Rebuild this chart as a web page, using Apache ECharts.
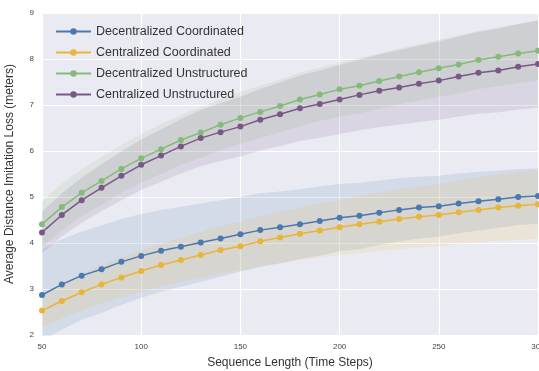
<!DOCTYPE html>
<html>
<head>
<meta charset="utf-8">
<script src="https://cdn.jsdelivr.net/npm/echarts@6/dist/echarts.min.js"></script>
<style>
  html, body { margin: 0; padding: 0; background: #fff; }
  #chart { width: 539px; height: 371px; }
</style>
</head>
<body>
<div id="chart"></div>
<script>
// sequence lengths (x)
const seqLen = [50, 60, 70, 80, 90, 100, 110, 120, 130, 140, 150, 160, 170,
  180, 190, 200, 210, 220, 230, 240, 250, 260, 270, 280, 290, 300];

// mean loss per series
const decCoord = [2.87, 3.10, 3.29, 3.43, 3.59, 3.72, 3.83, 3.92, 4.01, 4.10, 4.19, 4.28, 4.34,
  4.41, 4.48, 4.55, 4.59, 4.66, 4.72, 4.77, 4.80, 4.86, 4.91, 4.95, 5.00, 5.02];
const cenCoord = [2.53, 2.74, 2.93, 3.10, 3.25, 3.39, 3.52, 3.63, 3.74, 3.85, 3.93, 4.04, 4.12,
  4.20, 4.27, 4.34, 4.41, 4.46, 4.52, 4.57, 4.61, 4.67, 4.72, 4.77, 4.81, 4.84];
const decUnstr = [4.41, 4.78, 5.09, 5.35, 5.61, 5.84, 6.04, 6.24, 6.40, 6.57, 6.72, 6.85, 6.98,
  7.12, 7.23, 7.34, 7.42, 7.52, 7.62, 7.71, 7.80, 7.88, 7.98, 8.05, 8.12, 8.18];
const cenUnstr = [4.23, 4.61, 4.93, 5.20, 5.46, 5.70, 5.90, 6.10, 6.28, 6.41, 6.53, 6.68, 6.80,
  6.93, 7.02, 7.12, 7.22, 7.31, 7.38, 7.46, 7.53, 7.62, 7.70, 7.75, 7.83, 7.89];

// half-width of the shaded band (+/-) per series
const decCoordSpread = [1.00, 0.98, 0.96, 0.95, 0.93, 0.91, 0.89, 0.87, 0.85, 0.83, 0.81, 0.80, 0.78,
  0.76, 0.75, 0.73, 0.72, 0.70, 0.69, 0.67, 0.66, 0.65, 0.64, 0.62, 0.61, 0.60];
const cenCoordSpread = [0.36, 0.38, 0.40, 0.41, 0.43, 0.45, 0.46, 0.48, 0.50, 0.51, 0.53, 0.54, 0.56,
  0.57, 0.59, 0.60, 0.62, 0.63, 0.65, 0.66, 0.68, 0.69, 0.71, 0.72, 0.74, 0.75];
const decUnstrSpread = [0.50, 0.51, 0.51, 0.52, 0.52, 0.53, 0.54, 0.54, 0.55, 0.55, 0.56, 0.57, 0.57,
  0.58, 0.58, 0.59, 0.60, 0.60, 0.61, 0.61, 0.62, 0.63, 0.63, 0.64, 0.64, 0.65];
const cenUnstrSpread = [0.45, 0.47, 0.49, 0.51, 0.53, 0.55, 0.57, 0.59, 0.61, 0.63, 0.65, 0.67, 0.69,
  0.71, 0.73, 0.75, 0.77, 0.79, 0.81, 0.83, 0.85, 0.87, 0.89, 0.91, 0.93, 0.95];

const names = ['Decentralized Coordinated', 'Centralized Coordinated',
  'Decentralized Unstructured', 'Centralized Unstructured'];
const means = [decCoord, cenCoord, decUnstr, cenUnstr];
const spreads = [decCoordSpread, cenCoordSpread, decUnstrSpread, cenUnstrSpread];
const COLORS = ['#4a78b0', '#e8b53a', '#84bb78', '#7a5886'];
const BANDS = ['rgba(74,120,176,0.2)', 'rgba(232,181,58,0.2)', 'rgba(132,187,120,0.2)', 'rgba(122,88,134,0.2)'];

const series = [];
means.forEach((m, k) => {
  const lower = m.map((v, i) => v - spreads[k][i]);
  const width = spreads[k].map(s => 2 * s);
  series.push({
    type: 'line', stack: 'band' + k, data: lower, symbol: 'none',
    lineStyle: { opacity: 0 }, silent: true, z: 1
  });
  series.push({
    type: 'line', stack: 'band' + k, data: width, symbol: 'none',
    lineStyle: { opacity: 0 }, areaStyle: { color: BANDS[k] }, silent: true, z: 1
  });
});
means.forEach((m, k) => {
  series.push({
    name: names[k], type: 'line',
    data: m,
    symbol: 'circle', symbolSize: 6,
    lineStyle: { color: COLORS[k], width: 1.5 },
    itemStyle: { color: COLORS[k] },
    z: 5
  });
});

const chart = echarts.init(document.getElementById('chart'));
chart.setOption({
  animation: false,
  backgroundColor: '#ffffff',
  grid: {
    left: 42, right: 1, top: 13, bottom: 36,
    outerBoundsMode: 'none',
    show: true, backgroundColor: '#eaeaf2', borderWidth: 0
  },
  legend: {
    data: names,
    orient: 'vertical',
    left: 50, top: 20,
    itemWidth: 35, itemHeight: 8, itemGap: 8,
    textStyle: { fontSize: 12.5, color: '#333', fontFamily: 'Liberation Sans' }
  },
  xAxis: {
    type: 'category', data: seqLen, boundaryGap: false,
    name: 'Sequence Length (Time Steps)',
    nameLocation: 'middle', nameGap: 22,
    nameTextStyle: { fontSize: 12, color: '#333', fontFamily: 'Liberation Sans' },
    axisLine: { show: false }, axisTick: { show: false },
    axisLabel: { interval: 4, fontSize: 8, color: '#444', margin: 8 },
    splitLine: { show: true, interval: 4, lineStyle: { color: '#ffffff', width: 1.2 } }
  },
  yAxis: {
    type: 'value', min: 2, max: 9, interval: 1,
    name: 'Average Distance Imitation Loss (meters)',
    nameLocation: 'middle', nameGap: 26,
    nameTextStyle: { fontSize: 12, color: '#333', fontFamily: 'Liberation Sans' },
    axisLine: { show: false }, axisTick: { show: false },
    axisLabel: { fontSize: 8, color: '#444', margin: 8 },
    splitLine: { show: true, lineStyle: { color: '#ffffff', width: 1.2 } }
  },
  series: series
});
</script>
</body>
</html>
